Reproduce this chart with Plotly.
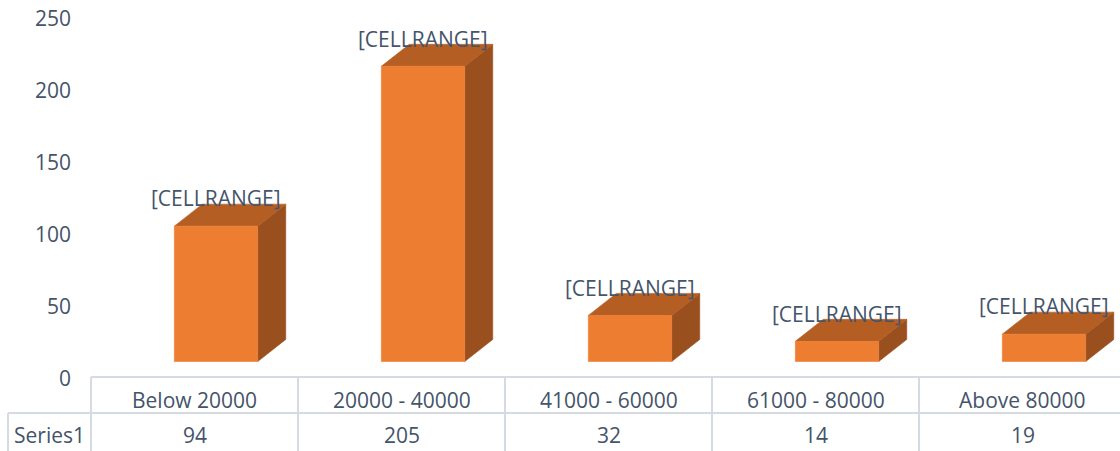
import plotly.graph_objects as go

# Data
categories = ["Below 20000", "20000 - 40000", "41000 - 60000", "61000 - 80000", "Above 80000"]
values = [94, 205, 32, 14, 19]
series_name = "Series1"
bar_label = "[CELLRANGE]"
y_ticks = [0, 50, 100, 150, 200, 250]

# Canvas / geometry (pixels)
W, H = 1120, 451
COL_W = 207.0          # width of one category column
TABLE_X0 = 91.0        # left edge of the category columns
ROWHEAD_X0 = 8.0       # left edge of the series-name cell
TABLE_TOP = 377.0      # top border of the data table
TABLE_MID = 413.0      # border between header row and value row
BASE_PX = 361.5        # pixel row of value 0 on the bar front faces
PX_PER_UNIT = 1.44
LABEL_ZERO_PX = 378.5  # pixel row of the "0" tick label

# 3D bar shape, in axis units
BAR_OFFSET = 0.104     # front face centre shift from the category centre
HALF_W = 0.2015        # half width of the front face
DEPTH_X = 28.0 / COL_W
DEPTH_Y = 22.0 / PX_PER_UNIT

FRONT = "#ED7D31"
TOP = "#B45E24"
SIDE = "#9A4F1E"
TEXT = "#44546A"
GRID = "#D6DBE3"
FONT = "Open Sans"

x_range = [-0.5 - TABLE_X0 / COL_W, -0.5 + (W - TABLE_X0) / COL_W]
y_range = [-(H - BASE_PX) / PX_PER_UNIT, BASE_PX / PX_PER_UNIT]
y2_range = [-(H - LABEL_ZERO_PX) / PX_PER_UNIT, LABEL_ZERO_PX / PX_PER_UNIT]


def px_to_x(px):
    return (px - TABLE_X0) / COL_W - 0.5


def px_to_paper_y(py):
    return 1 - py / H


fig = go.Figure()

for i, v in enumerate(values):
    x0 = i + BAR_OFFSET - HALF_W
    x1 = i + BAR_OFFSET + HALF_W
    faces = [
        # side face
        ([x1, x1 + DEPTH_X, x1 + DEPTH_X, x1, x1],
         [0, DEPTH_Y, v + DEPTH_Y, v, 0], SIDE),
        # top face
        ([x0, x1, x1 + DEPTH_X, x0 + DEPTH_X, x0],
         [v, v, v + DEPTH_Y, v + DEPTH_Y, v], TOP),
        # front face
        ([x0, x1, x1, x0, x0], [0, 0, v, v, 0], FRONT),
    ]
    for xs, ys, col in faces:
        fig.add_trace(go.Scatter(
            x=xs, y=ys, mode="lines", fill="toself", fillcolor=col,
            line=dict(width=0.6, color=col), hoverinfo="skip", showlegend=False,
        ))
    fig.add_annotation(
        x=i + BAR_OFFSET, y=v + DEPTH_Y + 4.0, xref="x", yref="y",
        text=bar_label, showarrow=False, yanchor="middle",
        font=dict(family=FONT, size=21, color=TEXT),
    )

# Invisible trace that carries the value axis labels
fig.add_trace(go.Scatter(x=[None], y=[None], yaxis="y2", showlegend=False, hoverinfo="skip"))

# Data table below the plot
shapes = []
line = dict(color=GRID, width=2)
shapes.append(dict(type="line", xref="x", yref="paper",
                   x0=-0.5, x1=x_range[1] + 1,
                   y0=px_to_paper_y(TABLE_TOP), y1=px_to_paper_y(TABLE_TOP), line=line))
shapes.append(dict(type="line", xref="x", yref="paper",
                   x0=px_to_x(ROWHEAD_X0), x1=x_range[1] + 1,
                   y0=px_to_paper_y(TABLE_MID), y1=px_to_paper_y(TABLE_MID), line=line))
shapes.append(dict(type="line", xref="x", yref="paper",
                   x0=px_to_x(ROWHEAD_X0), x1=px_to_x(ROWHEAD_X0),
                   y0=px_to_paper_y(TABLE_MID), y1=-0.1, line=line))
for k in range(len(categories) + 1):
    shapes.append(dict(type="line", xref="x", yref="paper",
                       x0=k - 0.5, x1=k - 0.5,
                       y0=px_to_paper_y(TABLE_TOP), y1=-0.1, line=line))

for i, (c, v) in enumerate(zip(categories, values)):
    fig.add_annotation(x=i, y=px_to_paper_y(400), xref="x", yref="paper",
                       text=c, showarrow=False, yanchor="middle",
                       font=dict(family=FONT, size=21, color=TEXT))
    fig.add_annotation(x=i, y=px_to_paper_y(435), xref="x", yref="paper",
                       text=str(v), showarrow=False, yanchor="middle",
                       font=dict(family=FONT, size=21, color=TEXT))
fig.add_annotation(x=(px_to_x(ROWHEAD_X0) - 0.5) / 2, y=px_to_paper_y(435), xref="x", yref="paper",
                   text=series_name, showarrow=False, yanchor="middle",
                   font=dict(family=FONT, size=21, color=TEXT))

fig.update_layout(
    width=W, height=H,
    margin=dict(l=0, r=0, t=0, b=0),
    paper_bgcolor="white", plot_bgcolor="white",
    xaxis=dict(range=x_range, visible=False, domain=[0, 1], fixedrange=True),
    yaxis=dict(range=y_range, visible=False, domain=[0, 1], fixedrange=True),
    yaxis2=dict(range=y2_range, overlaying="y", anchor="free", side="left",
                position=71 / W, tickvals=y_ticks, showgrid=False, zeroline=False,
                showline=False, ticks="", tickfont=dict(family=FONT, size=21, color=TEXT)),
    shapes=shapes,
    showlegend=False,
)

fig.write_html("out.html")
